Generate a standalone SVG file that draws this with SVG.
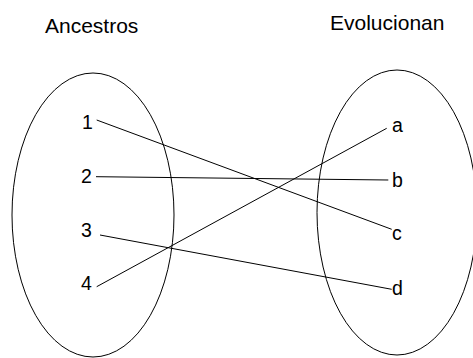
<svg xmlns="http://www.w3.org/2000/svg" width="473" height="358" viewBox="0 0 473 358">
<style>
.set{fill:none;stroke:#000;stroke-width:1}
.t{font-family:"Liberation Sans",Arial,sans-serif;fill:#000}
.h{font-size:21px}
.l{font-size:19.5px}
.c{fill:none;stroke:#000;stroke-width:1}
</style>
<rect width="473" height="358" fill="#fff"/>
<g id="title-ancestros"><text class="t h" x="45" y="33">Ancestros</text></g>
<g id="title-evolucionan"><text class="t h" x="330" y="30">Evolucionan</text></g>
<g id="set-left"><ellipse class="set" cx="93" cy="215" rx="81" ry="142"/></g>
<g id="set-right"><ellipse class="set" cx="397" cy="212.5" rx="80" ry="142.5"/></g>
<g id="node-1"><text class="t l" x="82" y="129">1</text></g>
<g id="node-2"><text class="t l" x="81" y="183">2</text></g>
<g id="node-3"><text class="t l" x="81" y="237">3</text></g>
<g id="node-4"><text class="t l" x="81" y="290">4</text></g>
<g id="node-a"><text class="t l" x="392" y="132">a</text></g>
<g id="node-b"><text class="t l" x="392" y="187">b</text></g>
<g id="node-c"><text class="t l" x="392" y="240">c</text></g>
<g id="node-d"><text class="t l" x="392" y="295">d</text></g>
<g id="connectors">
<line class="c" x1="96.7" y1="120" x2="391.7" y2="229.3"/>
<line class="c" x1="96" y1="176.7" x2="388.3" y2="180"/>
<line class="c" x1="100" y1="235" x2="391.7" y2="289.3"/>
<line class="c" x1="96.7" y1="286.7" x2="386.7" y2="128.3"/>
</g>
</svg>
